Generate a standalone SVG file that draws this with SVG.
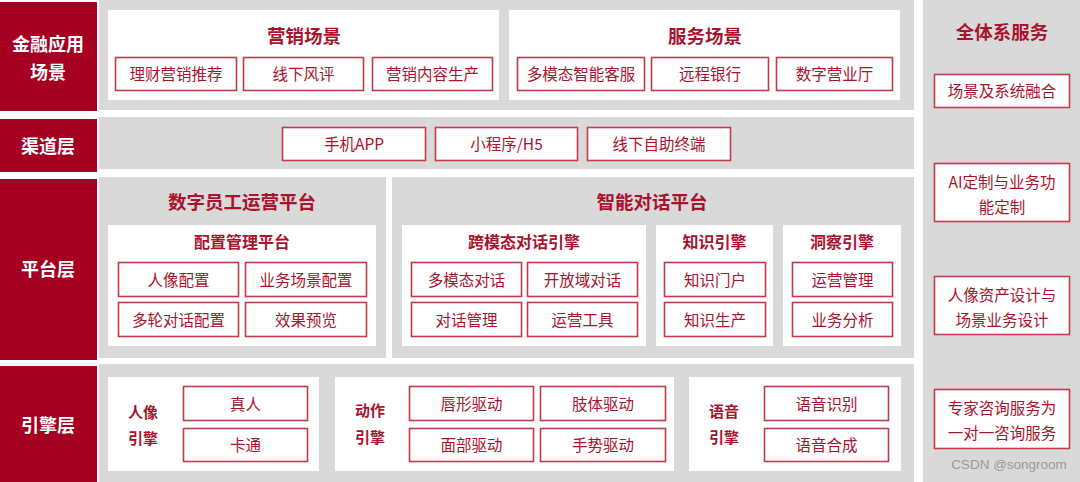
<svg xmlns="http://www.w3.org/2000/svg" width="1080" height="482" viewBox="0 0 1080 482">
<style>
text{font-family:"Noto Sans CJK SC","Noto Sans",sans-serif;text-anchor:middle;dominant-baseline:central;transform:translateY(-1px)}
.band{fill:#d9d9d9}
.layer{fill:#a50021}
.lt{fill:#ffffff;font-size:18px;font-weight:700}
.panel{fill:#ffffff}
.box{fill:#ffffff;stroke:#c23a4c;stroke-width:1.6}
.bt{fill:#a8132d;font-size:15.5px}
.h1{fill:#a8132d;font-size:18.5px;font-weight:700}
.h2{fill:#a8132d;font-size:16px;font-weight:700}
.el{fill:#a8132d;font-size:15px;font-weight:700}
.wm{fill:#9a9a9a;font-family:"Liberation Sans",Arial,sans-serif;font-size:13.5px}
</style>
<rect width="1080" height="482" fill="#ffffff"/>

<!-- background bands -->
<g id="bands">
<rect class="band" x="99" y="0" width="815" height="110"/>
<rect class="band" x="99" y="117" width="815" height="52"/>
<rect class="band" x="99" y="177" width="287" height="181"/>
<rect class="band" x="392" y="177" width="522" height="181"/>
<rect class="band" x="99" y="364" width="815" height="118"/>
<rect class="band" x="923" y="0" width="157" height="482"/>
</g>

<!-- layer labels -->
<g id="layer-app">
<rect class="layer" x="0" y="2" width="97" height="109"/>
<text class="lt" x="48" y="44">金融应用</text>
<text class="lt" x="48" y="72">场景</text>
</g>
<g id="layer-channel">
<rect class="layer" x="0" y="119" width="97" height="53"/>
<text class="lt" x="48" y="146">渠道层</text>
</g>
<g id="layer-platform">
<rect class="layer" x="0" y="179" width="97" height="181"/>
<text class="lt" x="48" y="269">平台层</text>
</g>
<g id="layer-engine">
<rect class="layer" x="0" y="366" width="97" height="116"/>
<text class="lt" x="48" y="425">引擎层</text>
</g>

<!-- application scenarios -->
<g id="marketing">
<rect class="panel" x="108" y="10" width="391" height="90"/>
<text class="h1" x="304" y="36">营销场景</text>
<g id="m1"><rect class="box" x="115.5" y="57.5" width="121" height="33"/><text class="bt" x="176" y="74">理财营销推荐</text></g>
<g id="m2"><rect class="box" x="243.5" y="57.5" width="120" height="33"/><text class="bt" x="303.5" y="74">线下风评</text></g>
<g id="m3"><rect class="box" x="372.5" y="57.5" width="120" height="33"/><text class="bt" x="432.5" y="74">营销内容生产</text></g>
</g>
<g id="service">
<rect class="panel" x="509" y="10" width="391" height="90"/>
<text class="h1" x="705" y="36">服务场景</text>
<g id="s1"><rect class="box" x="517.5" y="57.5" width="127" height="33"/><text class="bt" x="581" y="74">多模态智能客服</text></g>
<g id="s2"><rect class="box" x="651.5" y="57.5" width="117" height="33"/><text class="bt" x="710" y="74">远程银行</text></g>
<g id="s3"><rect class="box" x="776.5" y="57.5" width="116" height="33"/><text class="bt" x="834.5" y="74">数字营业厅</text></g>
</g>

<!-- channels -->
<g id="ch-app"><rect class="box" x="282.5" y="127.5" width="143" height="33"/><text class="bt" x="354" y="144">手机APP</text></g>
<g id="ch-mini"><rect class="box" x="435.5" y="127.5" width="142" height="33"/><text class="bt" x="506.5" y="144">小程序/H5</text></g>
<g id="ch-offline"><rect class="box" x="587.5" y="127.5" width="143" height="33"/><text class="bt" x="659" y="144">线下自助终端</text></g>

<!-- platform: digital employee -->
<g id="digital-employee">
<text class="h1" x="242" y="202">数字员工运营平台</text>
<rect class="panel" x="108" y="225" width="268" height="121"/>
<text class="h2" x="242" y="242">配置管理平台</text>
<g id="p1"><rect class="box" x="118.5" y="262.5" width="120" height="34"/><text class="bt" x="178.5" y="279.5">人像配置</text></g>
<g id="p2"><rect class="box" x="245.5" y="262.5" width="121" height="34"/><text class="bt" x="306" y="279.5">业务场景配置</text></g>
<g id="p3"><rect class="box" x="118.5" y="302.5" width="120" height="34"/><text class="bt" x="178.5" y="319.5">多轮对话配置</text></g>
<g id="p4"><rect class="box" x="245.5" y="302.5" width="121" height="34"/><text class="bt" x="306" y="319.5">效果预览</text></g>
</g>

<!-- platform: dialogue -->
<g id="dialogue-platform">
<text class="h1" x="652" y="202">智能对话平台</text>
</g>
<g id="cross-modal">
<rect class="panel" x="402" y="225" width="244" height="121"/>
<text class="h2" x="524" y="242">跨模态对话引擎</text>
<g id="c1"><rect class="box" x="411.5" y="262.5" width="110" height="34"/><text class="bt" x="466.5" y="279.5">多模态对话</text></g>
<g id="c2"><rect class="box" x="527.5" y="262.5" width="110" height="34"/><text class="bt" x="582.5" y="279.5">开放域对话</text></g>
<g id="c3"><rect class="box" x="411.5" y="302.5" width="110" height="34"/><text class="bt" x="466.5" y="319.5">对话管理</text></g>
<g id="c4"><rect class="box" x="527.5" y="302.5" width="110" height="34"/><text class="bt" x="582.5" y="319.5">运营工具</text></g>
</g>
<g id="knowledge">
<rect class="panel" x="656" y="225" width="117" height="121"/>
<text class="h2" x="714.5" y="242">知识引擎</text>
<g id="k1"><rect class="box" x="664.5" y="262.5" width="101" height="34"/><text class="bt" x="715" y="279.5">知识门户</text></g>
<g id="k2"><rect class="box" x="664.5" y="302.5" width="101" height="34"/><text class="bt" x="715" y="319.5">知识生产</text></g>
</g>
<g id="insight">
<rect class="panel" x="783" y="225" width="118" height="121"/>
<text class="h2" x="842" y="242">洞察引擎</text>
<g id="i1"><rect class="box" x="792.5" y="262.5" width="100" height="34"/><text class="bt" x="842.5" y="279.5">运营管理</text></g>
<g id="i2"><rect class="box" x="792.5" y="302.5" width="100" height="34"/><text class="bt" x="842.5" y="319.5">业务分析</text></g>
</g>

<!-- engines -->
<g id="avatar-engine">
<rect class="panel" x="108" y="377" width="211" height="94"/>
<text class="el" x="143" y="412">人像</text>
<text class="el" x="143" y="438">引擎</text>
<g id="e1"><rect class="box" x="183.5" y="386.5" width="124" height="34"/><text class="bt" x="245.5" y="403.5">真人</text></g>
<g id="e2"><rect class="box" x="183.5" y="428.5" width="124" height="33"/><text class="bt" x="245.5" y="445">卡通</text></g>
</g>
<g id="motion-engine">
<rect class="panel" x="335" y="377" width="339" height="94"/>
<text class="el" x="370" y="410">动作</text>
<text class="el" x="370" y="437">引擎</text>
<g id="a1"><rect class="box" x="409.5" y="386.5" width="124" height="34"/><text class="bt" x="471.5" y="403.5">唇形驱动</text></g>
<g id="a2"><rect class="box" x="540.5" y="386.5" width="125" height="34"/><text class="bt" x="603" y="403.5">肢体驱动</text></g>
<g id="a3"><rect class="box" x="409.5" y="428.5" width="124" height="33"/><text class="bt" x="471.5" y="445">面部驱动</text></g>
<g id="a4"><rect class="box" x="540.5" y="428.5" width="125" height="33"/><text class="bt" x="603" y="445">手势驱动</text></g>
</g>
<g id="voice-engine">
<rect class="panel" x="689" y="377" width="212" height="94"/>
<text class="el" x="724" y="411">语音</text>
<text class="el" x="724" y="437">引擎</text>
<g id="v1"><rect class="box" x="764.5" y="386.5" width="124" height="34"/><text class="bt" x="826.5" y="403.5">语音识别</text></g>
<g id="v2"><rect class="box" x="764.5" y="428.5" width="124" height="33"/><text class="bt" x="826.5" y="445">语音合成</text></g>
</g>

<!-- full-system services -->
<g id="full-service">
<text class="h1" x="1002" y="32">全体系服务</text>
<g id="f1"><rect class="box" x="934.5" y="74.5" width="135" height="33"/><text class="bt" x="1002" y="91">场景及系统融合</text></g>
<g id="f2"><rect class="box" x="934.5" y="163.5" width="135" height="58"/><text class="bt" x="1002" y="182">AI定制与业务功</text><text class="bt" x="1002" y="207">能定制</text></g>
<g id="f3"><rect class="box" x="934.5" y="276.5" width="135" height="58"/><text class="bt" x="1002" y="295">人像资产设计与</text><text class="bt" x="1002" y="320">场景业务设计</text></g>
<g id="f4"><rect class="box" x="934.5" y="389.5" width="135" height="59"/><text class="bt" x="1002" y="408">专家咨询服务为</text><text class="bt" x="1002" y="433">一对一咨询服务</text></g>
</g>

<g id="connectors"/>

<text class="wm" x="1009" y="465">CSDN @songroom</text>
</svg>
